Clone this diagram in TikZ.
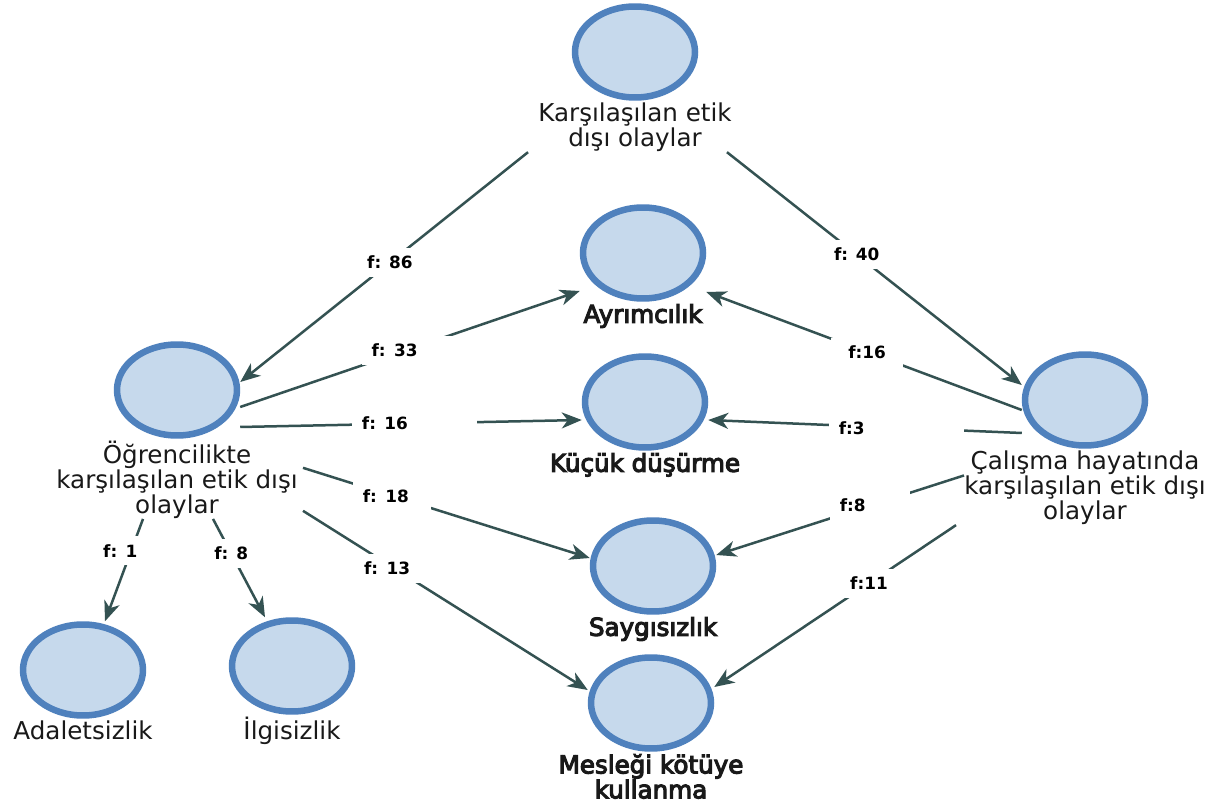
\documentclass[tikz,border=0pt]{standalone}
\usepackage{fontspec}
\setmainfont{DejaVu Sans}
\newfontfamily\kalinfont{DejaVu Sans}[FakeBold=4.5]
\usetikzlibrary{shapes.geometric,positioning,arrows.meta}

\definecolor{dolgu}{RGB}{198,217,236}
\definecolor{cerceve}{RGB}{79,129,189}
\definecolor{okrenk}{RGB}{52,82,82}

\newcommand{\kavram}[5]{\node[kavram] (#1) at (#2,#3) {};
  \node[kyazi, #5, below=0.04cm of #1] (#1t) {#4};}

\begin{document}
\begin{tikzpicture}[x=0.02cm, y=-0.02cm,
  kavram/.style={ellipse, draw=cerceve, fill=dolgu, line width=0.13cm,
    minimum width=2.4cm, minimum height=1.82cm},
  kyazi/.style={inner sep=0, align=center, text=black!90,
    font=\fontsize{14}{14.2}\selectfont},
  kalin/.style={font=\kalinfont\fontsize{14}{14.2}\selectfont},
  bag/.style={draw=okrenk, line width=0.05cm,
    -{Stealth[length=0.4cm, width=0.32cm, inset=0.12cm]}},
  flbl/.style={fill=white, inner xsep=0.35cm, inner ysep=0.16cm,
    font=\bfseries\fontsize{9.6}{10}\selectfont},
  flblL/.style={flbl, inner xsep=0.2cm, align=left}]

  \fill[white] (0,0) rectangle (1217,807);
  \useasboundingbox (0,0) rectangle (1217,807);

  % Kavramlar
  % ---------

  \foreach \ad/\x/\y/\metin in {kars/635/52/{Karşılaşılan etik\\dışı olaylar},
    ogr/177/390/{Öğrencilikte\\karşılaşılan etik dışı\\olaylar},
    cal/1085/400/{Çalışma hayatında\\karşılaşılan etik dışı\\olaylar},
    ada/83/670/{Adaletsizlik}, ilg/292/666/{İlgisizlik}}
  \kavram{\ad}{\x}{\y}{\metin}{};

  \foreach \ad/\x/\y/\metin in {ayr/643/253/{Ayrımcılık},
    kuc/645/402/{Küçük düşürme}, say/653/566/{Saygısızlık},
    mes/651/703/{Mesleği kötüye\\kullanma}}
  \kavram{\ad}{\x}{\y}{\metin}{kalin};

  % Bağlantılar
  % -----------

  % Ana kavram
  \draw[bag] ([xshift=-0.2cm]karst.south west) -- node[flbl, pos=0.48] {f: 86} ([yshift=0.16cm]ogr.east);
  \draw[bag] ([xshift=-0.1cm]karst.south east) -- node[flbl, pos=0.44] {f: 40} ([yshift=0.3cm]cal.west);

  % Öğrencilik
  \draw[bag] ([yshift=-0.34cm]ogr.east) -- node[flblL, text width=1.4cm, pos=0.49] {f: 33} ([yshift=-0.76cm]ayr.west);
  \draw[bag] ([yshift=-0.74cm]ogr.east) -- node[flblL, text width=2.1cm, pos=0.51] {f: 16} ([yshift=-0.36cm]kuc.west);
  \draw[bag] ([xshift=0.1cm, yshift=0.24cm]ogrt.east) -- node[flblL, text width=1.16cm, pos=0.31] {f: 18} ([yshift=0.16cm]say.west);
  \draw[bag] ([xshift=0.1cm, yshift=-0.62cm]ogrt.east) -- node[flblL, text width=1.2cm, pos=0.32] {f: 13} ([yshift=0.26cm]mes.west);
  \draw[bag] ([xshift=-0.68cm]ogrt.south) -- node[flblL, text width=1.12cm, pos=0.31] {f: 1} ([xshift=0.44cm]ada.north);
  \draw[bag] ([xshift=0.72cm]ogrt.south) -- node[flbl, pos=0.35] {f: 8} ([xshift=-0.54cm]ilg.north);

  % Çalışma hayatı
  \draw[bag] ([yshift=-0.2cm]cal.west) -- node[flbl, pos=0.49] {f:16} ([yshift=-0.78cm]ayr.east);
  \draw[bag] ([yshift=-0.66cm]cal.west) -- node[flblL, text width=2.3cm, pos=0.4] {f:3} ([yshift=-0.36cm]kuc.east);
  \draw[bag] ([yshift=0.25cm]calt.west) -- node[flblL, text width=1.2cm, pos=0.38] {f:8} ([yshift=0.22cm]say.east);
  \draw[bag] ([xshift=-0.16cm]calt.south west) -- node[flbl, pos=0.36] {f:11} ([yshift=0.32cm]mes.east);

\end{tikzpicture}
\end{document}
